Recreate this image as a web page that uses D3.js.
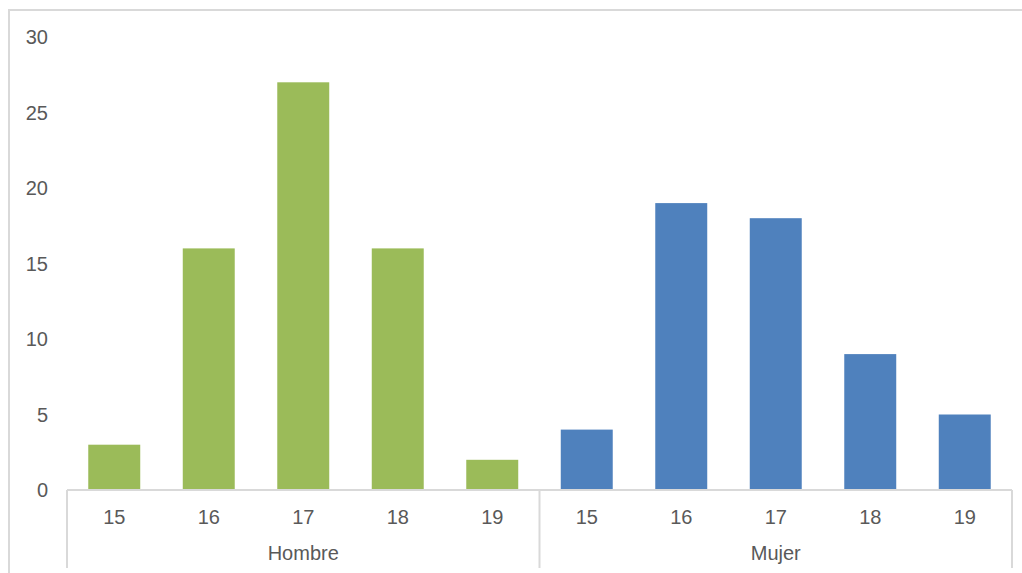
<!DOCTYPE html>
<html>
<head>
<meta charset="utf-8">
<script src="https://cdn.jsdelivr.net/npm/d3@7"></script>
<style>
  body { margin: 0; background: #fff; }
  svg { display: block; font-family: "Liberation Sans", Arial, sans-serif; }
</style>
</head>
<body>
<div id="chart"></div>
<script>
// Data
const groups = ["Hombre", "Mujer"];
const ages = ["15", "16", "17", "18", "19"];
const hombreValues = [3, 16, 27, 16, 2];
const mujerValues = [4, 19, 18, 9, 5];
const yTicks = [0, 5, 10, 15, 20, 25, 30];
const groupColors = ["#9bbb59", "#4f81bd"];

const W = 1022, H = 573;
const svg = d3.select("#chart").append("svg")
  .attr("width", W)
  .attr("height", H);

// Outer frame
svg.append("rect")
  .attr("x", 9).attr("y", 10)
  .attr("width", W + 10).attr("height", H + 10)
  .attr("fill", "none")
  .attr("stroke", "#d9d9d9")
  .attr("stroke-width", 2);

const plotLeft = 67, plotRight = 1012, plotTop = 37, base = 490;

// Flatten into category slots
const flat = [];
groups.forEach((g, gi) => {
  const vals = gi === 0 ? hombreValues : mujerValues;
  ages.forEach((a, i) => flat.push({ key: g + "-" + a, group: g, gi, age: a, value: vals[i] }));
});

const x = d3.scaleBand()
  .domain(flat.map(d => d.key))
  .range([plotLeft, plotRight])
  .paddingInner(0.45)
  .paddingOuter(0.225);

const xSlot = d3.scaleBand()
  .domain(flat.map(d => d.key))
  .range([plotLeft, plotRight]);

const y = d3.scaleLinear().domain([0, 30]).range([base, plotTop]);

// Y labels
svg.append("g").selectAll("text")
  .data(yTicks)
  .enter().append("text")
  .attr("x", 48)
  .attr("y", d => y(d))
  .attr("dy", "0.35em")
  .attr("text-anchor", "end")
  .attr("font-size", "20px")
  .attr("fill", "#595959")
  .text(d => d);

// Bars
svg.selectAll("rect.bar")
  .data(flat)
  .enter().append("rect")
  .attr("class", "bar")
  .attr("x", d => x(d.key))
  .attr("y", d => y(d.value))
  .attr("width", x.bandwidth())
  .attr("height", d => y(0) - y(d.value))
  .attr("fill", d => groupColors[d.gi]);

// Axis line + group separators
const axisColor = "#d9d9d9";
svg.append("line")
  .attr("x1", plotLeft).attr("x2", plotRight)
  .attr("y1", base).attr("y2", base)
  .attr("stroke", axisColor).attr("stroke-width", 2);

const sepX = [plotLeft, xSlot(groups[1] + "-" + ages[0]), plotRight];
svg.selectAll("line.sep")
  .data(sepX)
  .enter().append("line")
  .attr("class", "sep")
  .attr("x1", d => d).attr("x2", d => d)
  .attr("y1", base).attr("y2", 568)
  .attr("stroke", axisColor).attr("stroke-width", 2);

// Category labels
svg.selectAll("text.cat")
  .data(flat)
  .enter().append("text")
  .attr("class", "cat")
  .attr("x", d => xSlot(d.key) + xSlot.bandwidth() / 2)
  .attr("y", 524)
  .attr("text-anchor", "middle")
  .attr("font-size", "20px")
  .attr("fill", "#595959")
  .text(d => d.age);

// Group labels
svg.selectAll("text.grp")
  .data(groups)
  .enter().append("text")
  .attr("class", "grp")
  .attr("x", (d, i) => (sepX[i] + sepX[i + 1]) / 2)
  .attr("y", 560)
  .attr("text-anchor", "middle")
  .attr("font-size", "20px")
  .attr("fill", "#595959")
  .text(d => d);
</script>
</body>
</html>
